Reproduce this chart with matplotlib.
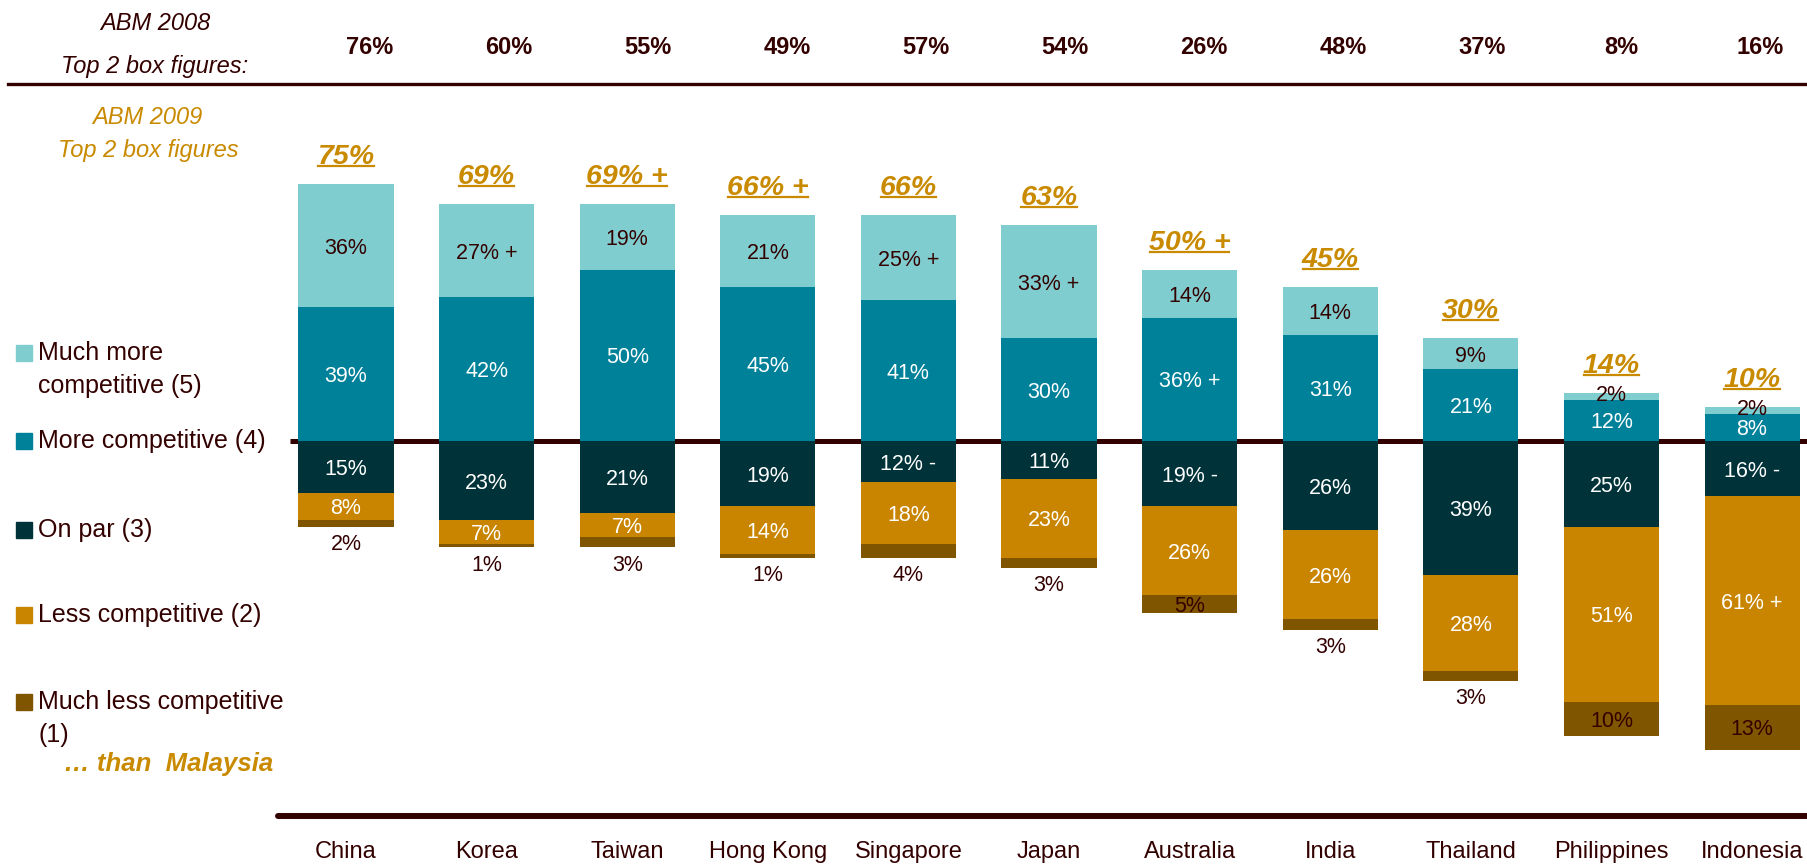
import numpy as np
import matplotlib
matplotlib.use("Agg")
import matplotlib.pyplot as plt
import matplotlib.transforms as mtransforms
from matplotlib.lines import Line2D
from matplotlib.patches import Rectangle

plt.rcParams["font.family"] = ["Liberation Sans", "DejaVu Sans"]

# ---- data (percent of respondents) ----
countries = ["China", "Korea", "Taiwan", "Hong Kong", "Singapore", "Japan",
             "Australia", "India", "Thailand", "Philippines", "Indonesia"]
much_more = [36, 27, 19, 21, 25, 33, 14, 14, 9, 2, 2]
more = [39, 42, 50, 45, 41, 30, 36, 31, 21, 12, 8]
on_par = [15, 23, 21, 19, 12, 11, 19, 26, 39, 25, 16]
less = [8, 7, 7, 14, 18, 23, 26, 26, 28, 51, 61]
much_less = [2, 1, 3, 1, 4, 3, 5, 3, 3, 10, 13]
top2_2008 = [76, 60, 55, 49, 57, 54, 26, 48, 37, 8, 16]
top2_2009 = [75, 69, 69, 66, 66, 63, 50, 45, 30, 14, 10]

# change markers vs 2008
mark_top2 = ["", "", "+", "+", "", "", "+", "", "", "", ""]
mark_much_more = ["", "+", "", "", "+", "+", "", "", "", "", ""]
mark_more = ["", "", "", "", "", "", "+", "", "", "", ""]
mark_on_par = ["", "", "", "", "-", "", "-", "", "", "", "-"]
mark_less = ["", "", "", "", "", "", "", "", "", "", "+"]
mark_much_less = [""] * 11

legend_labels = ["Much more\ncompetitive (5)", "More competitive (4)", "On par (3)",
                 "Less competitive (2)", "Much less competitive\n(1)"]

# ---- style ----
C_MUCH_MORE = "#80CDD0"
C_MORE = "#00819A"
C_PAR = "#003339"
C_LESS = "#C98500"
C_MUCH_LESS = "#7F5500"
DARK = "#330000"
GOLD = "#C98A00"

W_PX, H_PX = 1807, 865
fig = plt.figure(figsize=(W_PX / 100, H_PX / 100), dpi=100)
ax = fig.add_axes([0, 0, 1, 1])
ax.set_xlim(-2.461, 10.391)
ax.set_ylim(-123.6, 128.6)
ax.axis("off")


def fx(px):
    return px / W_PX


def fy(py):
    return 1 - py / H_PX


x = np.arange(len(countries))
w = 0.676
mm = np.array(much_more)
mo = np.array(more)
op = np.array(on_par)
le = np.array(less)
ml = np.array(much_less)

# zero line behind the bars
ax.hlines(0, -0.40, 10.391, color=DARK, lw=3.6, zorder=1)

ax.bar(x, mo, width=w, color=C_MORE, zorder=2)
ax.bar(x, mm, bottom=mo, width=w, color=C_MUCH_MORE, zorder=2)
ax.bar(x, -op, width=w, color=C_PAR, zorder=2)
ax.bar(x, -le, bottom=-op, width=w, color=C_LESS, zorder=2)
ax.bar(x, -ml, bottom=-(op + le), width=w, color=C_MUCH_LESS, zorder=2)


def fmt(v, m):
    return f"{v}%" + (f" {m}" if m else "")


LBL = dict(ha="center", va="center_baseline", fontsize=15.5, zorder=3)
for i in x:
    ax.text(i, mo[i] / 2, fmt(mo[i], mark_more[i]), color="white", **LBL)
    if mm[i] >= 5:
        ax.text(i, mo[i] + mm[i] / 2, fmt(mm[i], mark_much_more[i]), color=DARK, **LBL)
    else:
        ax.text(i, mo[i] + mm[i], fmt(mm[i], mark_much_more[i]), color=DARK, **LBL)
    ax.text(i, -op[i] / 2, fmt(op[i], mark_on_par[i]), color="white", **LBL)
    ax.text(i, -op[i] - le[i] / 2, fmt(le[i], mark_less[i]), color="white", **LBL)
    bottom = -(op[i] + le[i] + ml[i])
    if ml[i] >= 5:
        ax.text(i, bottom + ml[i] / 2, fmt(ml[i], mark_much_less[i]), color=DARK, **LBL)
    else:
        ax.annotate(fmt(ml[i], mark_much_less[i]), xy=(i, bottom), xytext=(0, -11),
                    textcoords="offset points", ha="center", va="center_baseline",
                    fontsize=15.5, color=DARK)

# 2009 top-2 figures, underlined
tops = []
for i in x:
    top = mo[i] + mm[i]
    t = ax.annotate(fmt(top2_2009[i], mark_top2[i]), xy=(i, top), xytext=(0, 14.4),
                    textcoords="offset points", ha="center", va="baseline",
                    fontsize=20.5, fontweight="bold", fontstyle="italic", color=GOLD)
    tops.append((t, i, top))

# 2008 header row
fig.text(fx(155), fy(24), "ABM 2008", ha="center", va="center", fontsize=17,
         fontstyle="italic", color=DARK)
fig.text(fx(155), fy(67), "Top 2 box figures:", ha="center", va="center", fontsize=17,
         fontstyle="italic", color=DARK)
for i, v in enumerate(top2_2008):
    fig.text(fx(370 + 139 * i), fy(47), f"{v}%", ha="center", va="center",
             fontsize=17, fontweight="bold", color=DARK)
fig.add_artist(Line2D([fx(8), 1], [fy(84), fy(84)], color=DARK, lw=2.4))

fig.text(fx(147), fy(117), "ABM 2009", ha="center", va="center", fontsize=17,
         fontstyle="italic", color=GOLD)
fig.text(fx(148), fy(150), "Top 2 box figures", ha="center", va="center", fontsize=17,
         fontstyle="italic", color=GOLD)

# legend
colors = [C_MUCH_MORE, C_MORE, C_PAR, C_LESS, C_MUCH_LESS]
leg_y = [353, 441, 530, 615, 702]
for lbl, c, y in zip(legend_labels, colors, leg_y):
    fig.add_artist(Rectangle((fx(16), fy(y + 8)), 16 / W_PX, 16 / H_PX,
                             transform=fig.transFigure, color=c))
    for k, line in enumerate(lbl.split("\n")):
        fig.text(fx(38), fy(y + 33 * k), line, ha="left", va="center",
                 fontsize=18, color=DARK)
fig.text(fx(64), fy(764), "\u2026 than  Malaysia", ha="left", va="center",
         fontsize=18.5, fontweight="bold", fontstyle="italic", color=GOLD)

# bottom axis line and country names
fig.add_artist(Line2D([fx(278), 1], [fy(816), fy(816)], color=DARK, lw=4.3,
                      solid_capstyle="round"))
trans = mtransforms.blended_transform_factory(ax.transData, fig.transFigure)
for i, name in enumerate(countries):
    ax.text(i, fy(852), name, transform=trans, ha="center", va="center",
            fontsize=17, color=DARK)

# underline the 2009 figures
fig.canvas.draw()
renderer = fig.canvas.get_renderer()
inv = fig.transFigure.inverted()
for t, i, top in tops:
    bb = t.get_window_extent(renderer)
    base = ax.transData.transform((i, top))[1] + 20
    pts = inv.transform([(bb.x0 + 1, base - 2), (bb.x1 - 1, base - 2)])
    fig.add_artist(Line2D(pts[:, 0], pts[:, 1], color=GOLD, lw=1.6))

fig.savefig("out.png", dpi=100)
